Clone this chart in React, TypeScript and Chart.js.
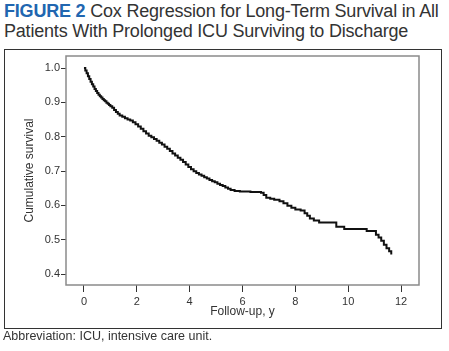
import React, { useEffect, useRef } from "react";
import { Chart, registerables } from "chart.js";

Chart.register(...registerables);

const followUpYears: number[] = [
  0, 0.05, 0.1, 0.15, 0.2, 0.25, 0.3, 0.35, 0.4, 0.45, 0.5, 0.55, 0.6, 0.65,
  0.7, 0.75, 0.8, 0.85, 0.9, 0.95, 1.0, 1.07, 1.14, 1.21, 1.28, 1.35, 1.45,
  1.55, 1.65, 1.75, 1.85, 1.95, 2.05, 2.15, 2.25, 2.35, 2.45, 2.55, 2.65, 2.75,
  2.85, 2.95, 3.05, 3.15, 3.25, 3.35, 3.45, 3.55, 3.65, 3.75, 3.85, 3.95, 4.05,
  4.15, 4.25, 4.35, 4.45, 4.55, 4.65, 4.75, 4.85, 4.95, 5.05, 5.15, 5.25, 5.35,
  5.45, 5.55, 5.7, 5.9, 6.3, 6.7, 6.8, 6.9, 7.05, 7.2, 7.4, 7.55, 7.7, 7.85,
  8.0, 8.2, 8.35, 8.45, 8.55, 8.7, 8.9, 9.55, 9.85, 10.7, 11.05, 11.15, 11.25,
  11.35, 11.45, 11.55, 11.63,
];

const cumulativeSurvival: number[] = [
  1.0, 0.993, 0.985, 0.976, 0.968, 0.96, 0.953, 0.946, 0.939, 0.933, 0.927,
  0.922, 0.918, 0.914, 0.91, 0.906, 0.903, 0.899, 0.896, 0.892, 0.889, 0.884,
  0.878, 0.872, 0.867, 0.862, 0.858, 0.854, 0.85, 0.847, 0.842, 0.836, 0.83,
  0.823, 0.816, 0.809, 0.803, 0.798, 0.793, 0.788, 0.782, 0.777, 0.771, 0.765,
  0.758, 0.751, 0.745, 0.739, 0.733, 0.726, 0.719, 0.712, 0.705, 0.699, 0.694,
  0.69, 0.686, 0.682, 0.678, 0.674, 0.67, 0.667, 0.663, 0.659, 0.656, 0.652,
  0.648, 0.645, 0.642, 0.64, 0.639, 0.637, 0.63, 0.622, 0.619, 0.616, 0.612,
  0.606, 0.599, 0.593, 0.588, 0.585, 0.577, 0.57, 0.562, 0.556, 0.55, 0.538,
  0.531, 0.525, 0.514, 0.506, 0.497, 0.485, 0.475, 0.466, 0.457,
];

const xTickValues: number[] = [0, 2, 4, 6, 8, 10, 12];
const yTickValues: number[] = [0.4, 0.5, 0.6, 0.7, 0.8, 0.9, 1.0];

const FONT = "'Liberation Sans', Arial, Helvetica, sans-serif";

const framePlugin = {
  id: "frame",
  afterDatasetsDraw(chart: any) {
    const { ctx, chartArea } = chart;
    ctx.save();
    ctx.strokeStyle = "#8a8a8a";
    ctx.lineWidth = 1.5;
    ctx.strokeRect(
      chartArea.left,
      chartArea.top,
      chartArea.right - chartArea.left,
      chartArea.bottom - chartArea.top
    );
    ctx.restore();
  },
};

export default function App() {
  const canvasRef = useRef<HTMLCanvasElement | null>(null);

  useEffect(() => {
    const canvas = canvasRef.current;
    if (!canvas) return;
    const data = followUpYears.map((x, i) => ({ x, y: cumulativeSurvival[i] }));
    const chart = new Chart(canvas, {
      type: "line",
      data: {
        datasets: [
          {
            data,
            borderColor: "#111111",
            borderWidth: 2,
            pointRadius: 0,
            stepped: true,
            fill: false,
          },
        ],
      },
      options: {
        animation: false,
        responsive: false,
        maintainAspectRatio: false,
        layout: { padding: { left: 20, top: 56, right: 30, bottom: 30 } },
        plugins: {
          legend: { display: false },
          tooltip: { enabled: false },
          title: { display: false },
        },
        scales: {
          x: {
            type: "linear",
            min: -0.68,
            max: 12.68,
            afterBuildTicks: (scale: any) => {
              scale.ticks = xTickValues.map((v) => ({ value: v }));
            },
            afterFit: (scale: any) => {
              scale.height = 36;
            },
            border: { display: false },
            grid: {
              drawOnChartArea: false,
              drawTicks: true,
              tickLength: 7,
              color: "#333333",
              lineWidth: 1,
            },
            ticks: {
              padding: 3,
              color: "#333333",
              font: { family: FONT, size: 11 },
              maxRotation: 0,
              callback: (v: any) => String(v),
            },
            title: {
              display: true,
              text: "Follow-up, y",
              color: "#333333",
              font: { family: FONT, size: 12 },
              padding: { top: 0, bottom: 2 },
            },
          },
          y: {
            type: "linear",
            min: 0.368,
            max: 1.035,
            afterBuildTicks: (scale: any) => {
              scale.ticks = yTickValues.map((v) => ({ value: v }));
            },
            afterFit: (scale: any) => {
              scale.width = 46;
            },
            border: { display: false },
            grid: {
              drawOnChartArea: false,
              drawTicks: true,
              tickLength: 5,
              color: "#333333",
              lineWidth: 1,
            },
            ticks: {
              padding: 1,
              color: "#333333",
              font: { family: FONT, size: 11 },
              callback: (v: any) => Number(v).toFixed(1),
            },
            title: {
              display: true,
              text: "Cumulative survival",
              color: "#333333",
              font: { family: FONT, size: 12 },
              padding: { top: 2, bottom: 0 },
            },
          },
        },
      },
      plugins: [framePlugin],
    });
    return () => chart.destroy();
  }, []);

  return (
    <div
      style={{
        position: "fixed",
        left: 0,
        top: 0,
        width: 449,
        height: 351,
        background: "#ffffff",
        fontFamily: FONT,
        overflow: "hidden",
      }}
    >
      <div
        style={{
          position: "absolute",
          left: 4,
          top: 1,
          width: 445,
          fontSize: 18,
          lineHeight: "20px",
          color: "#333333",
          letterSpacing: "-0.2px",
        }}
      >
        <span style={{ fontWeight: "bold", color: "#2166b0" }}>FIGURE 2</span>{" "}
        Cox Regression for Long-Term Survival in All Patients With Prolonged ICU
        Surviving to Discharge
      </div>
      <div
        style={{
          position: "absolute",
          left: 4,
          top: 49,
          width: 436,
          height: 278,
          border: "1px solid #333333",
        }}
      />
      <canvas
        ref={canvasRef}
        width={449}
        height={351}
        style={{ position: "absolute", left: 0, top: 0, width: 449, height: 351 }}
      />
      <div
        style={{
          position: "absolute",
          left: 3,
          top: 329,
          fontSize: 12.5,
          color: "#333333",
          whiteSpace: "nowrap",
        }}
      >
        Abbreviation: ICU, intensive care unit.
      </div>
    </div>
  );
}
